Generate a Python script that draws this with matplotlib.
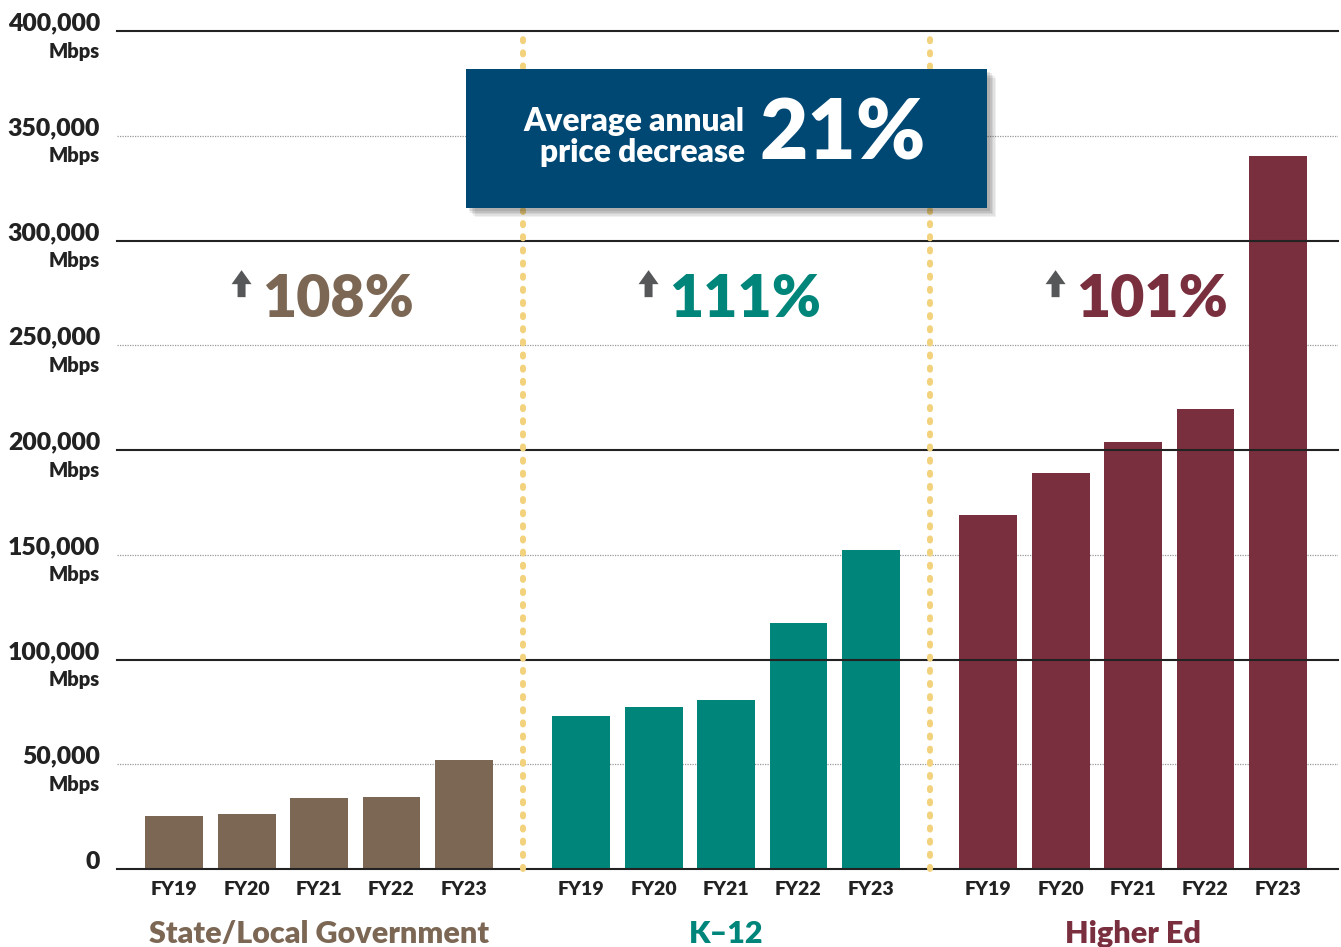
import matplotlib
matplotlib.use("Agg")
import matplotlib.pyplot as plt
import matplotlib.transforms as mtransforms
from matplotlib.patches import Rectangle, Polygon

plt.rcParams['font.family'] = ['Lato', 'DejaVu Sans']

years = ["FY19", "FY20", "FY21", "FY22", "FY23"]
groups = ["State/Local Government", "K\u201312", "Higher Ed"]
state_local = [25300, 26300, 33900, 34400, 52000]
k12 = [73000, 77300, 80700, 117400, 152300]
higher_ed = [169000, 189000, 203800, 219600, 340300]
growth = ["108%", "111%", "101%"]
colors = ["#7B6754", "#00857A", "#7A2F3F"]
yticks = [0, 50000, 100000, 150000, 200000, 250000, 300000, 350000, 400000]
box_label = "Average annual\nprice decrease"
box_value = "21%"

series = [state_local, k12, higher_ed]
W = 'heavy'

fig = plt.figure(figsize=(13.41, 9.47), dpi=100)
ax = fig.add_axes([117/1341, 1-869/947, (1338-117)/1341, (869-31)/947])

gap = 0.62
step = 5 + gap
xlabels_pos = []
xlabels = []
for g, vals in enumerate(series):
    xs = [g*step + i for i in range(len(vals))]
    ax.bar(xs, vals, width=0.8, color=colors[g], zorder=2)
    xlabels_pos += xs
    xlabels += years

ax.set_xlim(-0.79, 2*step + 4 + 0.83)
ax.set_ylim(0, 400000)

for s in ax.spines.values():
    s.set_visible(False)

# gridlines
for v in yticks:
    if v % 100000 == 0:
        ax.axhline(v, color="#222222", lw=1.5, zorder=3, clip_on=False)
    else:
        ax.axhline(v, color="#9a9a9a", lw=0.9, ls=(0, (1, 1)), zorder=1)

# separators
for g in range(2):
    xsep = g*step + 4 + (1 + gap)/2
    ax.plot([xsep, xsep], [0, 399000], color="#F2D27C", lw=4.3,
            ls=(0, (0.35, 1.85)), dash_capstyle='round', zorder=4, clip_on=False)

# y labels
ax.set_yticks([])
ytrans = ax.get_yaxis_transform()
for v in yticks:
    if v == 0:
        ax.annotate("0", xy=(-0.0139, v), xycoords=ytrans, xytext=(0, 5),
                    textcoords='offset points', ha='right', va='center',
                    fontsize=17.8, fontweight=W, color="#222222")
    else:
        ax.annotate(f"{v:,}", xy=(-0.0139, v), xycoords=ytrans, xytext=(0, 5.5),
                    textcoords='offset points', ha='right', va='center',
                    fontsize=17.8, fontweight=W, color="#222222")
        ax.annotate("Mbps", xy=(-0.0139, v), xycoords=ytrans, xytext=(0, -14.5),
                    textcoords='offset points', ha='right', va='center',
                    fontsize=14.5, fontweight=W, color="#222222")

# x tick labels
ax.set_xticks(xlabels_pos)
ax.set_xticklabels(xlabels, fontsize=14, fontweight=W, color="#222222")
ax.tick_params(axis='x', length=0, pad=8.5)

# group names
xtrans = ax.get_xaxis_transform()
for g, name in enumerate(groups):
    ax.annotate(name, xy=(g*step + 2, 0), xycoords=xtrans, xytext=(0, -46.5),
                textcoords='offset points', ha='center', va='center',
                fontsize=22, fontweight=W, color=colors[g])

# growth labels with arrows
for g, txt in enumerate(growth):
    x0 = g*step
    ax.text(x0 + 1.21, 272000, txt, ha='left', va='center', fontsize=42.5,
            fontweight=W, color=colors[g], zorder=5)
    tr = mtransforms.Affine2D() + mtransforms.ScaledTranslation(x0 + 0.93, 272000, ax.transData)
    verts = [(-4, 2), (4, 2), (4, 15), (10, 15), (0, 29), (-10, 15), (-4, 15)]
    ax.add_patch(Polygon(verts, closed=True, facecolor="#555759", edgecolor='none',
                         transform=tr, zorder=5, clip_on=False))

# annotation box with shadow
bx0, bx1 = (466-174)/72.5, (988-174)/72.5
by0, by1 = 315500, 381900
for k, a in enumerate([0.06, 0.06, 0.07, 0.08, 0.09]):
    off = 9 - k*1.5
    sh_tr = ax.transData + mtransforms.Affine2D().translate(off, -off)
    ax.add_patch(Rectangle((bx0, by0), bx1-bx0, by1-by0, facecolor='black', alpha=a,
                           edgecolor='none', transform=sh_tr, zorder=6, clip_on=False))
ax.add_patch(Rectangle((bx0, by0), bx1-bx0, by1-by0, facecolor="#004874",
                       edgecolor='none', zorder=7, clip_on=False))
ax.text((745-174)/72.5, 349400, box_label, ha='right', va='center', ma='right',
        fontsize=22.8, fontweight=W, color='white', linespacing=1.12, zorder=8)
ax.text((760-174)/72.5, 350300, box_value, ha='left', va='center',
        fontsize=60, fontweight=W, color='white', zorder=8)

fig.savefig("out.png", dpi=100, facecolor='white')
